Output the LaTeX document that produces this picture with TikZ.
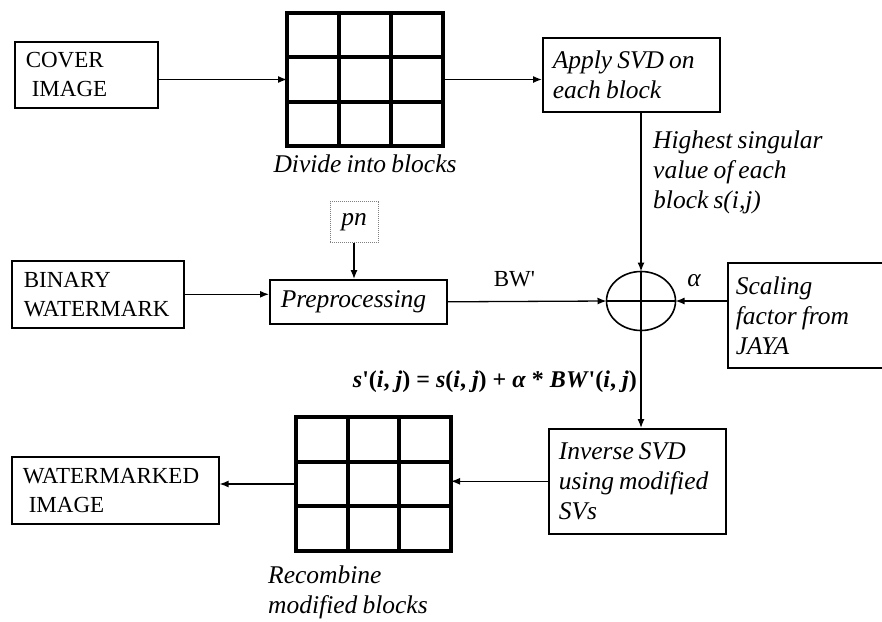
\documentclass[tikz,border=0pt]{standalone}
\usepackage{fontspec}
\setmainfont{Liberation Serif}
\usetikzlibrary{arrows.meta,shapes.geometric,calc}

\newcommand{\upr}{\fontsize{23}{29}\selectfont}
\newcommand{\itl}{\fontsize{25.5}{30}\selectfont\itshape\spaceskip=0.2em}
\newcommand{\pr}{\textquotesingle}

\tikzset{
    box/.style={draw, line width=1.6pt, anchor=north west, align=flush left, inner ysep=0pt},
    blocks/.style={draw, line width=4pt, outer sep=0pt, inner sep=0pt},
    gridline/.style={line width=4pt},
    arr/.style={-{Latex[length=9pt,width=7pt]}, line width=1.3pt},
}

\begin{document}
\begin{tikzpicture}[x=1pt, y=-1pt]
    \useasboundingbox (0,0) rectangle (882,621);

    % --- inputs ---
    \node[box, font=\upr, minimum width=143pt, minimum height=66pt, inner xsep=11pt, text width=121pt]
        (cover) at (14,41) {COVER\\\hspace{6pt}IMAGE};
    \node[box, font=\upr, minimum width=172pt, minimum height=67pt, inner xsep=12pt, text width=148pt]
        (binary) at (11,260) {BINARY\\WATERMARK};
    \node[draw=gray, densely dotted, line width=1pt, minimum width=48pt, minimum height=41pt, inner sep=0pt, font=\itl]
        (pn) at (354,222) {pn};

    % --- processing boxes ---
    \node[box, font=\itl, minimum width=177pt, minimum height=74pt, inner xsep=10pt, text width=157pt]
        (svd) at (542,37) {Apply SVD on\\each block};
    \node[box, font=\itl, minimum width=177pt, minimum height=44pt, inner xsep=11pt, text width=155pt]
        (prep) at (269,279) {Preprocessing};
    \node[box, font=\itl, minimum width=160pt, minimum height=105pt, inner xsep=8pt, text width=144pt]
        (scal) at (727,262) {Scaling\\factor from\\JAYA};
    \node[box, font=\itl, minimum width=177pt, minimum height=105pt, inner xsep=10pt, text width=157pt]
        (inv) at (548,428) {Inverse SVD\\using modified\\SVs};
    \node[box, font=\upr, minimum width=207pt, minimum height=67pt, inner xsep=11pt, text width=185pt]
        (wmk) at (11,456) {WATERMARKED\\\hspace{6pt}IMAGE};

    % --- block grids ---
    \node[blocks, minimum width=156pt, minimum height=133pt] (grid1) at (365,79.5) {};
    \node[blocks, minimum width=155pt, minimum height=134pt] (grid2) at (373.5,484) {};
    \foreach \g in {grid1,grid2}
        \foreach \f in {1,2} {
            \draw[gridline] ($(\g.north west)!\f/3!(\g.north east)$) -- ($(\g.south west)!\f/3!(\g.south east)$);
            \draw[gridline] ($(\g.north west)!\f/3!(\g.south west)$) -- ($(\g.north east)!\f/3!(\g.south east)$);
        }

    % --- adder ---
    \node[ellipse, draw, line width=1.6pt, minimum width=69pt, minimum height=59pt, inner sep=0pt, outer sep=0pt]
        (sum) at (641,301) {};
    \draw[line width=1.3pt] (sum.north) -- (sum.south) (sum.west) -- (sum.east);

    % --- captions ---
    \node[font=\itl, anchor=base, inner sep=0pt] (divcap) at (365,172) {Divide into blocks};
    \node[font=\itl, anchor=north west, align=left, inner sep=0pt] (hsv) at (653,131)
        {Highest singular\\value of each\\block s(i,j)};
    \node[font=\itl, anchor=north west, align=left, inner sep=0pt] (reccap) at (268,566)
        {Recombine\\modified blocks};
    \node[font=\fontsize{24}{29}\selectfont\bfseries, anchor=base east, inner sep=0pt] (eqn) at (637,387)
        {\textit{s}\pr(\textit{i}, \textit{j}) = \textit{s}(\textit{i}, \textit{j}) + \textit{α} * \textit{BW}\pr(\textit{i}, \textit{j})};

    % --- connectors ---
    \draw[arr] (grid1.west -| cover.east) -- (grid1.west);
    \draw[arr] (grid1.east) -- (grid1.east -| svd.west);
    \draw[arr] (sum |- svd.south) -- (sum.north);
    \draw[arr] (binary.east) -- (binary.east -| prep.west);
    \draw[arr] (pn.south) -- (pn.south |- prep.north);
    \draw[arr] (prep.east) -- node[pos=0.42, above=14pt, inner sep=0pt, font=\upr] (bwlab) {BW\pr} (sum.west);
    \draw[arr] (scal.west |- sum) -- node[pos=0.64, above=14pt, inner sep=0pt, font=\itl] (alab) {α} (sum.east);
    \draw[arr] (sum.south) -- (sum.south |- inv.north);
    \draw[arr] (inv.west) -- (inv.west -| grid2.east);
    \draw[arr] (grid2.west) -- (grid2.west -| wmk.east);
\end{tikzpicture}
\end{document}
